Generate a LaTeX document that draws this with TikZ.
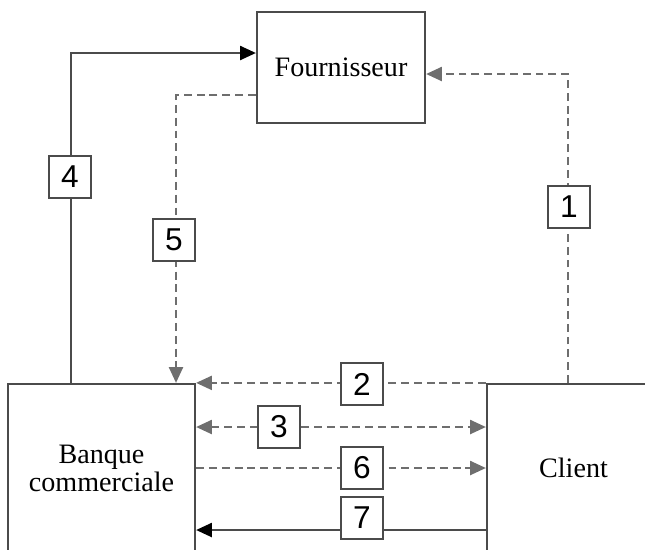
\documentclass[tikz,border=0pt]{standalone}
\usepackage{fontspec}
\setmainfont{Liberation Serif}
\newfontfamily\numfont{Liberation Sans}
\usetikzlibrary{arrows.meta}
\usetikzlibrary{math}
\definecolor{linegray}{RGB}{75,75,75}
\definecolor{dashgray}{RGB}{110,110,110}
\tikzset{box/.style={draw=linegray, line width=1.3pt, fill=white, align=center, inner sep=0pt, font=\fontsize{16}{16}\selectfont},
	numbox/.style={draw=linegray, line width=1.2pt, fill=white, minimum size=0.84cm, inner sep=0pt, font=\numfont\fontsize{18}{18}\selectfont},
	solidflow/.style={draw=linegray, line width=1.2pt, -{Triangle[length=9pt,width=8pt,color=black]}},
	dashflow/.style={draw=dashgray, line width=1.2pt, dash pattern=on 4.5pt off 2.8pt, -{Triangle[length=9pt,width=8pt]}},
	dashboth/.style={dashflow, {Triangle[length=9pt,width=8pt]}-{Triangle[length=9pt,width=8pt]}}}

\begin{document}
\begin{tikzpicture}[x=0.02cm, y=-0.02cm]
	\tikzmath{\fx=341; \fy=67.5; \bx=101.5; \by=468; \cx=573.5; \cy=468;
	\ya=53; \yb=74; \yc=95; \xa=71; \xb=568; \xc=176;
	\ytrois=427; \ysix=468; \ysept=530; \xmid=362;}
	\clip (0,0) rectangle (645,549);
	% the three parties
	\node[box, minimum width=3.36cm, minimum height=2.22cm] (fourn) at (\fx,\fy) {Fournisseur};
	\node[box, minimum width=3.74cm, minimum height=3.36cm] (banque) at (\bx,\by) {Banque\\commerciale};
	\node[box, minimum width=3.46cm, minimum height=3.36cm] (client) at (\cx,\cy) {Client};

	% flows
	\coordinate (k1) at (\xb,\yb);
	\coordinate (k4) at (\xa,\ya);
	\coordinate (k5) at (\xc,\yc);
	\coordinate (k3) at (0,\ytrois);
	\coordinate (k6) at (0,\ysix);
	\coordinate (k7) at (0,\ysept);
	\draw[dashflow] (client.north -| k1) |- (fourn.east |- k1);
	\draw[dashflow] (client.north west) -- (banque.north east);
	\draw[dashboth] (banque.east |- k3) -- (client.west |- k3);
	\draw[solidflow] (banque.north -| k4) |- (fourn.west |- k4);
	\draw[dashflow] (fourn.west |- k5) -| (banque.north -| k5);
	\draw[dashflow] (banque.east |- k6) -- (client.west |- k6);
	\draw[solidflow] (client.west |- k7) -- (banque.east |- k7);

	% step numbers
	\node[numbox] (n1) at (569,207) {1};
	\node[numbox] (n2) at (\xmid,384) {2};
	\node[numbox] (n3) at (279,\ytrois) {3};
	\node[numbox] (n4) at (70,177) {4};
	\node[numbox] (n5) at (174,240) {5};
	\node[numbox] (n6) at (\xmid,\ysix) {6};
	\node[numbox] (n7) at (\xmid,518) {7};
\end{tikzpicture}
\end{document}
